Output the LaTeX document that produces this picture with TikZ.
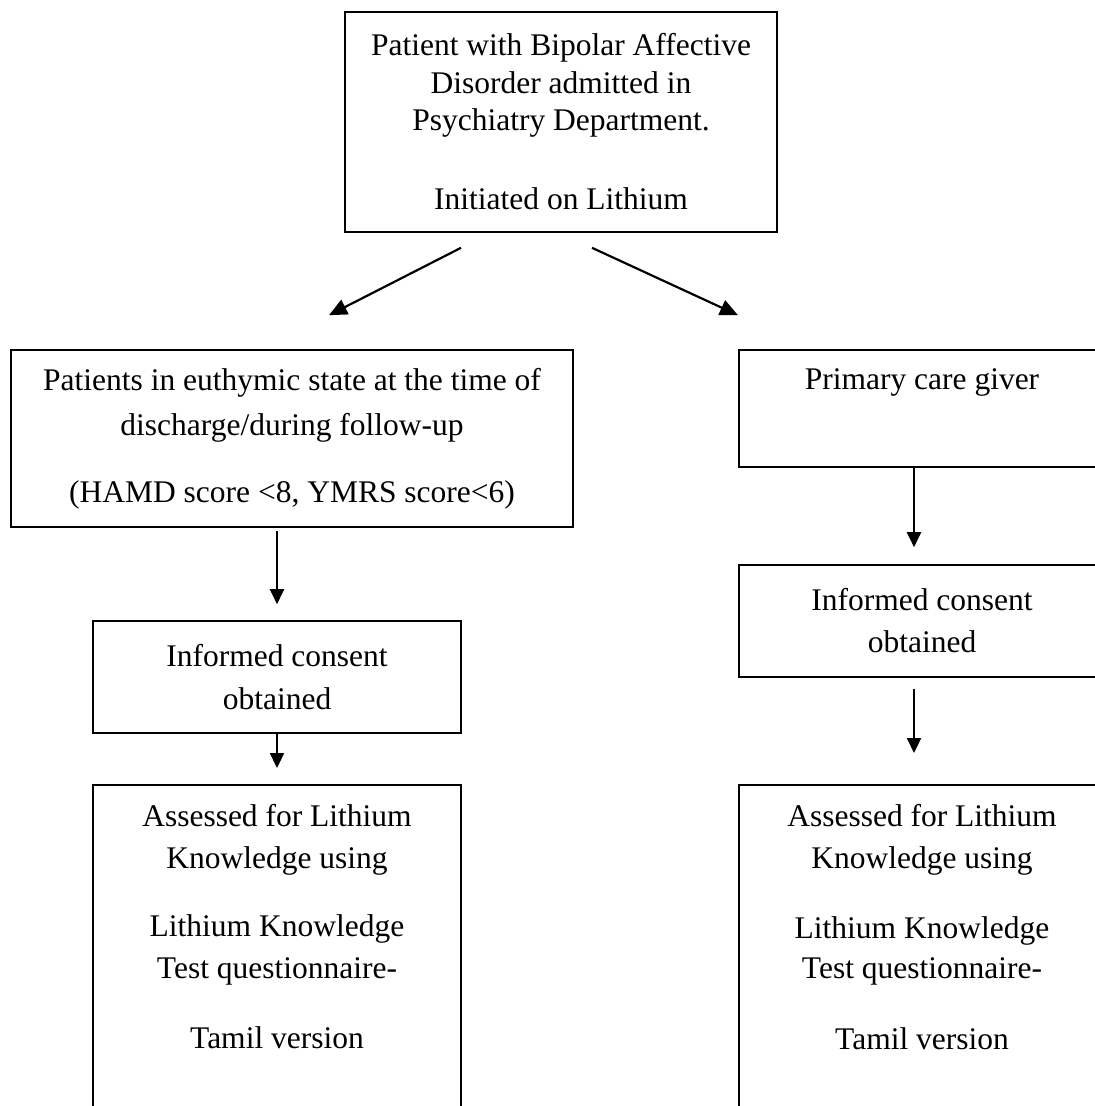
\documentclass[tikz,border=0pt]{standalone}
\usepackage{fontspec}
\setmainfont{Liberation Serif}
\usetikzlibrary{arrows.meta}
\tikzset{
  box/.style={draw, line width=1.6pt, align=center, inner sep=0pt,
    font=\fontsize{31.5}{37.5}\selectfont},
  arr/.style={line width=2.2pt, -{Triangle[length=15pt,width=14pt]}},
  diagarr/.style={line width=2.2pt, -{Triangle[length=18pt,width=16pt]}},
}
\begin{document}
\begin{tikzpicture}[x=1pt,y=-1pt]
\useasboundingbox (0,0) rectangle (1095,1106);
\node[box, minimum width=432pt, minimum height=220pt] (top) at (561,122)
  {Patient with Bipolar Affective\\Disorder admitted in\\Psychiatry Department.\\[41.5pt]Initiated on Lithium};
\node[box, minimum width=562pt, minimum height=177pt] (L2) at (292,438.5)
  {Patients in euthymic state at the time of\\[7.5pt]discharge/during follow-up\\[29.5pt](HAMD score <8, YMRS score<6)};
\node[box, minimum width=366pt, minimum height=117pt] (R2) at (922,408.5)
  {Primary care giver\\[14.5pt]\phantom{Pg}};
\node[box, minimum width=368pt, minimum height=112pt] (L3) at (277,677)
  {Informed consent\\[5pt]obtained};
\node[box, minimum width=366pt, minimum height=112pt] (R3) at (922,621)
  {Informed consent\\[4.5pt]obtained};
\node[box, anchor=north, minimum width=368pt, inner ysep=20pt] (L4) at (277,784)
  {Assessed for Lithium\\[4.5pt]Knowledge using\\[30.5pt]Lithium Knowledge\\[4.5pt]Test questionnaire-\\[32.5pt]Tamil version\\[200pt]\phantom{X}};
\node[box, anchor=north, minimum width=366pt, inner ysep=20pt] (R4) at (922,784)
  {Assessed for Lithium\\[4.5pt]Knowledge using\\[32.5pt]Lithium Knowledge\\[2.5pt]Test questionnaire-\\[33.5pt]Tamil version\\[200pt]\phantom{X}};
\draw[diagarr] ([xshift=-100pt,yshift=-15pt]top.south) -- ([xshift=37pt,yshift=34pt]L2.north);
\draw[diagarr] ([xshift=31pt,yshift=-15pt]top.south) -- ([xshift=-184pt,yshift=34pt]R2.north);
\draw[arr] ([yshift=-3pt]L2.south -| L3.north) -- ([yshift=16pt]L3.north);
\draw[arr] (L3.south) -- ([yshift=16pt]L4.north);
\draw[arr] ([xshift=-8pt]R2.south) -- ([xshift=-8pt,yshift=17pt]R3.north);
\draw[arr] ([xshift=-8pt,yshift=-11pt]R3.south) -- ([xshift=-8pt,yshift=31pt]R4.north);
\end{tikzpicture}
\end{document}
